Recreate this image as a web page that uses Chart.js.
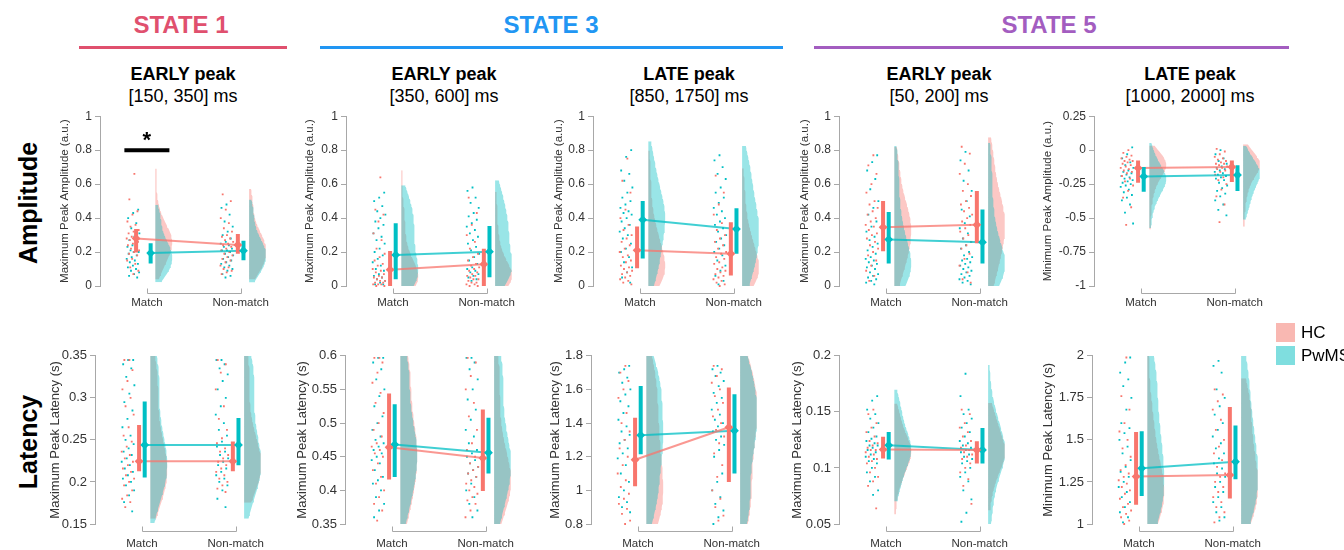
<!DOCTYPE html>
<html>
<head>
<meta charset="utf-8">
<title>Raincloud plots</title>
<script src="https://cdn.jsdelivr.net/npm/chart.js@4.4.1/dist/chart.umd.min.js"></script>
<style>
  body { margin: 0; background: #fff; }
  #fig { position: relative; width: 1344px; height: 550px; overflow: hidden; font-family: "Liberation Sans", Arial, sans-serif; color: #000; }
  .state { position: absolute; top: 11px; font-size: 24px; font-weight: bold; transform: translateX(-50%); white-space: nowrap; }
  .rule { position: absolute; top: 46px; height: 3px; }
  .ttl { position: absolute; top: 63px; font-size: 18px; line-height: 22px; text-align: center; transform: translateX(-50%); white-space: nowrap; }
  .ttl b { display: block; }
  .rowlab { position: absolute; left: 28px; font-size: 25px; font-weight: bold; transform: translate(-50%, -50%) rotate(-90deg); white-space: nowrap; }
  .panel { position: absolute; }
  .legend { position: absolute; left: 1276px; top: 321px; font-size: 17px; z-index: 5; }
  .legend div { height: 23px; display: flex; align-items: center; white-space: nowrap; }
  .legend .sw { width: 19px; height: 19px; margin-right: 6px; display: inline-block; }
</style>
</head>
<body>
<div id="fig"></div>
<script>
const categories = ['Match', 'Non-match'];
const groupNames = ['HC', 'PwMS'];

const stateNames = ['STATE 1', 'STATE 3', 'STATE 5'];
const peakNames = ['EARLY peak', 'EARLY peak', 'LATE peak', 'EARLY peak', 'LATE peak'];
const peakWindows = ['[150, 350] ms', '[350, 600] ms', '[850, 1750] ms', '[50, 200] ms', '[1000, 2000] ms'];
const rowNames = ['Amplitude', 'Latency'];

// y tick labels
const ampTicks = [0, 0.2, 0.4, 0.6, 0.8, 1];
const minAmpTicks = [-1, -0.75, -0.5, -0.25, 0, 0.25];
const latS1eTicks = [0.15, 0.2, 0.25, 0.3, 0.35];
const latS3eTicks = [0.35, 0.4, 0.45, 0.5, 0.55, 0.6];
const latS3lTicks = [0.8, 1, 1.2, 1.4, 1.6, 1.8];
const latS5eTicks = [0.05, 0.1, 0.15, 0.2];
const latS5lTicks = [1, 1.25, 1.5, 1.75, 2];

// single subjects, [Match, Non-match]
const ampS1eHC = [
  [0.66, 0.51, 0.44, 0.42, 0.38, 0.36, 0.35, 0.33, 0.32, 0.31, 0.30, 0.29, 0.28, 0.28, 0.27, 0.26, 0.25, 0.24, 0.23, 0.22, 0.21, 0.20, 0.19, 0.18, 0.16, 0.15, 0.13, 0.11, 0.09, 0.07],
  [0.54, 0.50, 0.45, 0.40, 0.37, 0.34, 0.32, 0.30, 0.29, 0.28, 0.27, 0.26, 0.25, 0.24, 0.23, 0.22, 0.21, 0.20, 0.19, 0.18, 0.17, 0.16, 0.15, 0.14, 0.12, 0.11, 0.10, 0.09, 0.08, 0.07]
];
const ampS1ePW = [
  [0.45, 0.43, 0.40, 0.37, 0.34, 0.31, 0.29, 0.27, 0.26, 0.24, 0.23, 0.22, 0.21, 0.20, 0.20, 0.19, 0.18, 0.17, 0.16, 0.15, 0.14, 0.13, 0.12, 0.11, 0.10, 0.09, 0.08, 0.07, 0.06, 0.05],
  [0.48, 0.46, 0.42, 0.38, 0.35, 0.32, 0.30, 0.28, 0.26, 0.25, 0.24, 0.23, 0.22, 0.21, 0.21, 0.20, 0.19, 0.18, 0.17, 0.16, 0.15, 0.14, 0.13, 0.12, 0.11, 0.10, 0.09, 0.07, 0.06, 0.05]
];
const ampS3eHC = [
  [0.64, 0.45, 0.42, 0.38, 0.31, 0.27, 0.22, 0.19, 0.17, 0.15, 0.13, 0.12, 0.10, 0.09, 0.08, 0.07, 0.06, 0.05, 0.05, 0.04, 0.03, 0.03, 0.02, 0.02, 0.01, 0.01, 0.01, 0.00, 0.00],
  [0.52, 0.43, 0.36, 0.30, 0.26, 0.22, 0.19, 0.17, 0.15, 0.13, 0.12, 0.11, 0.10, 0.09, 0.08, 0.07, 0.06, 0.06, 0.05, 0.04, 0.04, 0.03, 0.02, 0.02, 0.01, 0.01, 0.00, 0.00]
];
const ampS3ePW = [
  [0.55, 0.52, 0.50, 0.47, 0.44, 0.42, 0.40, 0.38, 0.36, 0.34, 0.31, 0.29, 0.27, 0.25, 0.22, 0.20, 0.18, 0.16, 0.14, 0.12, 0.10, 0.09, 0.07, 0.06, 0.05, 0.04, 0.03, 0.02, 0.01, 0.01],
  [0.58, 0.56, 0.52, 0.49, 0.46, 0.43, 0.41, 0.39, 0.37, 0.35, 0.33, 0.31, 0.29, 0.27, 0.25, 0.23, 0.21, 0.19, 0.17, 0.15, 0.13, 0.11, 0.10, 0.09, 0.08, 0.07, 0.06, 0.05, 0.04, 0.03]
];
const ampS3lHC = [
  [0.75, 0.62, 0.55, 0.45, 0.40, 0.36, 0.33, 0.30, 0.28, 0.26, 0.24, 0.22, 0.20, 0.18, 0.17, 0.15, 0.14, 0.12, 0.11, 0.10, 0.09, 0.08, 0.07, 0.06, 0.05, 0.04, 0.03, 0.02, 0.01],
  [0.65, 0.55, 0.48, 0.42, 0.37, 0.33, 0.30, 0.28, 0.26, 0.24, 0.22, 0.20, 0.19, 0.17, 0.16, 0.14, 0.13, 0.11, 0.10, 0.09, 0.08, 0.07, 0.06, 0.05, 0.04, 0.03, 0.02, 0.01, 0.00]
];
const ampS3lPW = [
  [0.80, 0.76, 0.68, 0.66, 0.62, 0.58, 0.55, 0.52, 0.50, 0.48, 0.46, 0.44, 0.43, 0.42, 0.40, 0.38, 0.36, 0.34, 0.32, 0.30, 0.28, 0.25, 0.22, 0.20, 0.17, 0.14, 0.11, 0.08, 0.05, 0.02],
  [0.77, 0.74, 0.70, 0.66, 0.63, 0.58, 0.55, 0.52, 0.49, 0.46, 0.44, 0.42, 0.40, 0.38, 0.36, 0.34, 0.32, 0.30, 0.28, 0.26, 0.24, 0.22, 0.20, 0.18, 0.15, 0.12, 0.09, 0.06, 0.03, 0.01]
];
const ampS5eHC = [
  [0.77, 0.71, 0.66, 0.60, 0.55, 0.50, 0.48, 0.46, 0.44, 0.42, 0.40, 0.38, 0.36, 0.35, 0.33, 0.31, 0.30, 0.28, 0.26, 0.24, 0.22, 0.20, 0.18, 0.15, 0.12, 0.09, 0.06, 0.03],
  [0.82, 0.78, 0.72, 0.66, 0.60, 0.56, 0.53, 0.50, 0.48, 0.46, 0.44, 0.42, 0.40, 0.38, 0.36, 0.34, 0.32, 0.30, 0.28, 0.26, 0.24, 0.22, 0.19, 0.16, 0.12, 0.08, 0.04, 0.02]
];
const ampS5ePW = [
  [0.77, 0.73, 0.68, 0.63, 0.57, 0.50, 0.46, 0.42, 0.38, 0.35, 0.32, 0.29, 0.27, 0.25, 0.23, 0.21, 0.19, 0.17, 0.16, 0.15, 0.14, 0.13, 0.12, 0.11, 0.10, 0.08, 0.07, 0.06, 0.05, 0.04, 0.03, 0.02, 0.01],
  [0.79, 0.74, 0.68, 0.62, 0.56, 0.50, 0.45, 0.41, 0.37, 0.34, 0.31, 0.28, 0.26, 0.24, 0.22, 0.20, 0.18, 0.17, 0.16, 0.15, 0.14, 0.13, 0.12, 0.11, 0.10, 0.09, 0.08, 0.07, 0.06, 0.05, 0.04, 0.03, 0.02, 0.01]
];
const ampS5lHC = [
  [0.00, -0.02, -0.04, -0.05, -0.06, -0.07, -0.08, -0.08, -0.09, -0.10, -0.11, -0.12, -0.13, -0.14, -0.15, -0.16, -0.17, -0.19, -0.21, -0.23, -0.26, -0.30, -0.35, -0.42, -0.55],
  [0.01, -0.01, -0.03, -0.05, -0.06, -0.07, -0.08, -0.09, -0.10, -0.10, -0.11, -0.12, -0.13, -0.14, -0.15, -0.16, -0.18, -0.20, -0.22, -0.25, -0.29, -0.34, -0.40, -0.53]
];
const ampS5lPW = [
  [0.02, -0.03, -0.06, -0.09, -0.11, -0.13, -0.15, -0.16, -0.17, -0.18, -0.19, -0.20, -0.21, -0.22, -0.23, -0.24, -0.25, -0.26, -0.27, -0.29, -0.31, -0.33, -0.35, -0.37, -0.40, -0.46, -0.54],
  [0.00, -0.03, -0.06, -0.08, -0.10, -0.12, -0.13, -0.14, -0.15, -0.16, -0.17, -0.18, -0.19, -0.20, -0.21, -0.22, -0.24, -0.26, -0.28, -0.30, -0.32, -0.34, -0.37, -0.40, -0.44, -0.48]
];
const latS1eHC = [
  [0.345, 0.345, 0.333, 0.32, 0.31, 0.30, 0.29, 0.28, 0.265, 0.255, 0.248, 0.242, 0.236, 0.232, 0.228, 0.224, 0.22, 0.216, 0.212, 0.208, 0.204, 0.20, 0.196, 0.19, 0.184, 0.18, 0.176, 0.17],
  [0.345, 0.34, 0.33, 0.31, 0.29, 0.275, 0.262, 0.252, 0.246, 0.24, 0.236, 0.232, 0.228, 0.224, 0.22, 0.216, 0.212, 0.208, 0.204, 0.20, 0.196, 0.192, 0.188]
];
const latS1ePW = [
  [0.345, 0.345, 0.34, 0.335, 0.325, 0.315, 0.305, 0.295, 0.285, 0.275, 0.265, 0.255, 0.25, 0.245, 0.24, 0.236, 0.232, 0.228, 0.224, 0.22, 0.216, 0.212, 0.208, 0.204, 0.20, 0.196, 0.19, 0.184, 0.176, 0.165],
  [0.345, 0.345, 0.34, 0.335, 0.328, 0.32, 0.31, 0.30, 0.29, 0.28, 0.27, 0.262, 0.255, 0.248, 0.242, 0.236, 0.232, 0.228, 0.224, 0.22, 0.216, 0.212, 0.208, 0.204, 0.20, 0.196, 0.19, 0.18, 0.17]
];
const latS3eHC = [
  [0.597, 0.597, 0.59, 0.575, 0.56, 0.545, 0.53, 0.515, 0.50, 0.49, 0.48, 0.47, 0.465, 0.46, 0.455, 0.45, 0.44, 0.43, 0.42, 0.41, 0.40, 0.39, 0.38, 0.37, 0.355],
  [0.597, 0.59, 0.57, 0.55, 0.53, 0.51, 0.49, 0.47, 0.46, 0.45, 0.44, 0.435, 0.43, 0.425, 0.42, 0.415, 0.41, 0.405, 0.40, 0.395, 0.39, 0.385, 0.38, 0.37, 0.36]
];
const latS3ePW = [
  [0.597, 0.597, 0.59, 0.58, 0.565, 0.55, 0.54, 0.525, 0.51, 0.50, 0.49, 0.48, 0.475, 0.47, 0.465, 0.46, 0.455, 0.45, 0.445, 0.44, 0.43, 0.42, 0.415, 0.41, 0.40, 0.39, 0.38, 0.37, 0.36],
  [0.597, 0.597, 0.59, 0.58, 0.565, 0.55, 0.535, 0.52, 0.505, 0.49, 0.48, 0.47, 0.46, 0.455, 0.45, 0.445, 0.44, 0.435, 0.43, 0.425, 0.42, 0.41, 0.40, 0.39, 0.38, 0.37, 0.36]
];
const latS3lHC = [
  [1.74, 1.70, 1.65, 1.60, 1.55, 1.46, 1.40, 1.35, 1.30, 1.25, 1.20, 1.15, 1.10, 1.06, 1.02, 0.98, 0.95, 0.92, 0.89, 0.86, 0.82, 0.80],
  [1.74, 1.72, 1.68, 1.64, 1.60, 1.56, 1.52, 1.48, 1.44, 1.40, 1.36, 1.32, 1.28, 1.22, 1.15, 1.08, 1.00, 0.95, 0.90, 0.85, 0.82]
];
const latS3lPW = [
  [1.74, 1.72, 1.70, 1.67, 1.64, 1.60, 1.57, 1.53, 1.50, 1.46, 1.42, 1.38, 1.35, 1.33, 1.30, 1.28, 1.25, 1.22, 1.19, 1.15, 1.10, 1.05, 1.00, 0.96, 0.93, 0.90, 0.87],
  [1.74, 1.72, 1.70, 1.68, 1.65, 1.62, 1.58, 1.55, 1.52, 1.48, 1.45, 1.42, 1.40, 1.38, 1.35, 1.32, 1.30, 1.27, 1.24, 1.20, 1.10, 1.05, 1.00, 0.96, 0.92, 0.88, 0.84, 0.80]
];
const latS5eHC = [
  [0.152, 0.148, 0.14, 0.136, 0.132, 0.128, 0.124, 0.122, 0.12, 0.118, 0.116, 0.116, 0.114, 0.112, 0.11, 0.108, 0.106, 0.104, 0.10, 0.096, 0.092, 0.088, 0.084, 0.064],
  [0.152, 0.148, 0.14, 0.136, 0.132, 0.128, 0.124, 0.12, 0.118, 0.116, 0.114, 0.112, 0.11, 0.108, 0.104, 0.10, 0.096, 0.09, 0.084, 0.068]
];
const latS5ePW = [
  [0.164, 0.16, 0.152, 0.148, 0.144, 0.14, 0.136, 0.132, 0.128, 0.126, 0.124, 0.122, 0.12, 0.12, 0.118, 0.116, 0.114, 0.112, 0.11, 0.108, 0.106, 0.104, 0.10, 0.096, 0.092, 0.088, 0.08, 0.076],
  [0.184, 0.164, 0.152, 0.148, 0.144, 0.14, 0.136, 0.132, 0.128, 0.124, 0.122, 0.12, 0.118, 0.116, 0.114, 0.112, 0.11, 0.108, 0.106, 0.104, 0.10, 0.096, 0.092, 0.088, 0.08, 0.072, 0.06, 0.052]
];
const latS5lHC = [
  [1.99, 1.76, 1.68, 1.60, 1.55, 1.50, 1.45, 1.40, 1.35, 1.32, 1.30, 1.28, 1.26, 1.24, 1.22, 1.20, 1.18, 1.15, 1.12, 1.10, 1.08, 1.06, 1.04, 1.02, 1.00],
  [1.80, 1.77, 1.73, 1.68, 1.62, 1.56, 1.50, 1.46, 1.42, 1.38, 1.34, 1.30, 1.28, 1.25, 1.22, 1.19, 1.16, 1.13, 1.10, 1.07, 1.04, 1.01]
];
const latS5lPW = [
  [1.99, 1.96, 1.90, 1.86, 1.82, 1.75, 1.68, 1.60, 1.57, 1.54, 1.50, 1.46, 1.42, 1.38, 1.34, 1.31, 1.28, 1.25, 1.22, 1.19, 1.16, 1.13, 1.10, 1.07, 1.04, 1.01],
  [1.97, 1.94, 1.90, 1.80, 1.75, 1.70, 1.65, 1.60, 1.56, 1.52, 1.48, 1.45, 1.42, 1.39, 1.36, 1.33, 1.30, 1.28, 1.25, 1.22, 1.19, 1.16, 1.13, 1.10, 1.07, 1.04, 1.02]
];

// group means and error bar ends, one [Match, Non-match] pair per panel
const meanHC = [[0.28, 0.242], [0.096, 0.128], [0.21, 0.19], [0.346, 0.36], [-0.132, -0.124],
                [0.2245, 0.2245], [0.464, 0.448], [1.182, 1.375], [0.1164, 0.116], [1.282, 1.291]];
const loHC = [[0.198, 0.19], [0, 0], [0.105, 0.062], [0.205, 0.252], [-0.239, -0.234],
              [0.2126, 0.2126], [0.416, 0.399], [1.025, 1.05], [0.1085, 0.104], [1.114, 1.152]];
const hiHC = [[0.335, 0.306], [0.206, 0.22], [0.35, 0.375], [0.5, 0.56], [-0.076, -0.076],
              [0.2676, 0.248], [0.544, 0.52], [1.432, 1.612], [0.1277, 0.1238], [1.547, 1.695]];
const meanPW = [[0.194, 0.208], [0.183, 0.202], [0.39, 0.335], [0.274, 0.258], [-0.193, -0.183],
                [0.244, 0.244], [0.468, 0.456], [1.328, 1.355], [0.1203, 0.116], [1.331, 1.37]];
const loPW = [[0.133, 0.152], [0.04, 0.052], [0.162, 0.19], [0.133, 0.133], [-0.307, -0.3],
              [0.2054, 0.22], [0.42, 0.425], [1.215, 1.1], [0.1076, 0.104], [1.167, 1.266]];
const hiPW = [[0.252, 0.267], [0.37, 0.354], [0.5, 0.458], [0.436, 0.45], [-0.124, -0.112],
              [0.2957, 0.276], [0.528, 0.508], [1.62, 1.572], [0.132, 0.1356], [1.551, 1.585]];

// significance bar (State 1, early amplitude, Match)
const sigLevel = 0.8;
const sigLabel = '*';

const panelHC = [ampS1eHC, ampS3eHC, ampS3lHC, ampS5eHC, ampS5lHC, latS1eHC, latS3eHC, latS3lHC, latS5eHC, latS5lHC];
const panelPW = [ampS1ePW, ampS3ePW, ampS3lPW, ampS5ePW, ampS5lPW, latS1ePW, latS3ePW, latS3lPW, latS5ePW, latS5lPW];
const panelTicks = [ampTicks, ampTicks, ampTicks, ampTicks, minAmpTicks, latS1eTicks, latS3eTicks, latS3lTicks, latS5eTicks, latS5lTicks];
const yTitles = ['Maximum Peak Amplitude (a.u.)', 'Maximum Peak Amplitude (a.u.)', 'Maximum Peak Amplitude (a.u.)',
  'Maximum Peak Amplitude (a.u.)', 'Minimum Peak Amplitude (a.u.)', 'Maximum Peak Latency (s)', 'Maximum Peak Latency (s)',
  'Maximum Peak Latency (s)', 'Maximum Peak Latency (s)', 'Minimum Peak Latency (s)'];

// ---- layout ----
const axisX = [100, 346, 593, 839, 1094, 95, 345, 591, 839, 1092];
const yAxisW = [46, 47, 45, 45, 57, 51, 54, 47, 53, 55];
const rowTop = [116, 355];
const rowH = [170, 169];
const xLabelPad = [10, 13];
const PLOT_W = 190, PAD_TOP = 10, XAX_H = 34;
const X_MIN = 0.5, X_MAX = 0.5 + PLOT_W / 96;
const DOT_LO = -0.22, DOT_HI = -0.08, VIO_BASE = 0.09, VIO_W = 0.18;
const dodge = axisX.map((_, i) => i === 0 ? [[-0.115, -0.03], [0.04, 0.03]] : [[-0.03, -0.03], [0.03, 0.03]]);

const COL = ['#F8766D', '#00BFC4'];
const FILL = ['rgba(248,118,109,0.4)', 'rgba(0,191,196,0.4)'];
const LINEC = ['rgba(248,118,109,0.75)', 'rgba(0,191,196,0.75)'];
const AXIS_C = '#a8a8a8';
const FONT = '"Liberation Sans", Arial, sans-serif';

const fig = document.getElementById('fig');
function addDiv(cls, html, css) {
  const d = document.createElement('div');
  d.className = cls;
  d.innerHTML = html;
  Object.assign(d.style, css || {});
  fig.appendChild(d);
  return d;
}

// headers
const stateX = [181, 551, 1049];
const stateColors = ['#E0506E', '#2196F3', '#A35DC0'];
const ruleSpan = [[79, 287], [320, 783], [814, 1289]];
stateNames.forEach((s, k) => {
  addDiv('state', s, {left: stateX[k] + 'px', color: stateColors[k]});
  addDiv('rule', '', {left: ruleSpan[k][0] + 'px', width: (ruleSpan[k][1] - ruleSpan[k][0]) + 'px', background: stateColors[k]});
});
const titleX = [183, 444, 689, 939, 1190];
peakNames.forEach((p, k) => addDiv('ttl', '<b>' + p + '</b>' + peakWindows[k], {left: titleX[k] + 'px'}));
addDiv('rowlab', rowNames[0], {top: '203px'});
addDiv('rowlab', rowNames[1], {top: '442px'});
const leg = addDiv('legend', '');
groupNames.forEach((g, k) => {
  const r = document.createElement('div');
  r.innerHTML = '<span class="sw" style="background:' + ['#F9B8B2', '#7FDEDF'][k] + '"></span>' + g;
  leg.appendChild(r);
});

function jitter(k, seed) {
  const f = ((k + 1) * 0.6180339887 + seed * 0.2917) % 1;
  return DOT_LO + (DOT_HI - DOT_LO) * f;
}

function violin(vals, base, yMin, yMax) {
  const n = vals.length;
  const mean = vals.reduce((a, b) => a + b, 0) / n;
  const sd = Math.sqrt(vals.reduce((a, b) => a + (b - mean) * (b - mean), 0) / (n - 1));
  const h = 1.0 * sd * Math.pow(n, -0.2);
  const lo = Math.max(yMin, Math.min(...vals) - 0.5 * h);
  const hi = Math.min(yMax, Math.max(...vals) + 0.5 * h);
  const steps = 60, dens = [];
  for (let k = 0; k <= steps; k++) {
    const y = lo + (hi - lo) * k / steps;
    let s = 0;
    vals.forEach(v => { const u = (y - v) / h; s += Math.exp(-0.5 * u * u); });
    dens.push({y, d: s});
  }
  const dmax = Math.max(...dens.map(p => p.d));
  return dens.map(p => ({x: base + VIO_W * p.d / dmax, y: p.y}));
}

function datasetsFor(i) {
  const ticks = panelTicks[i];
  const yMin = ticks[0], yMax = ticks[ticks.length - 1];
  const groups = [panelHC[i], panelPW[i]];
  const means = [meanHC[i], meanPW[i]], los = [loHC[i], loPW[i]], his = [hiHC[i], hiPW[i]];
  const ds = [];
  groups.forEach((grp, g) => {
    grp.forEach((vals, c) => {
      const base = c + 1 + VIO_BASE;
      ds.push({type: 'line', indexAxis: 'y', data: violin(vals, base, yMin, yMax), fill: {value: base},
        backgroundColor: FILL[g], borderWidth: 0, pointRadius: 0, showLine: true, order: 6 - g, clip: 0});
    });
  });
  groups.forEach((grp, g) => {
    const pts = [];
    grp.forEach((vals, c) => vals.forEach((v, k) => pts.push({x: c + 1 + jitter(k, g + 2 * c), y: v})));
    ds.push({type: 'scatter', data: pts, backgroundColor: COL[g], pointRadius: 1.3, pointStyle: 'rect',
      pointBorderWidth: 0, showLine: false, order: 4, clip: 3});
  });
  groups.forEach((grp, g) => {
    const off = dodge[i][g];
    const mpts = [0, 1].map(c => ({x: c + 1 + off[c], y: means[g][c]}));
    ds.push({type: 'line', data: mpts, borderColor: LINEC[g], borderWidth: 2, pointRadius: 0, fill: false, showLine: true, order: 3});
    [0, 1].forEach(c => ds.push({type: 'line', data: [{x: c + 1 + off[c], y: los[g][c]}, {x: c + 1 + off[c], y: his[g][c]}],
      borderColor: COL[g], borderWidth: 4, borderCapStyle: 'butt', pointRadius: 0, fill: false, showLine: true, order: 1}));
    ds.push({type: 'scatter', data: mpts, backgroundColor: COL[g], pointStyle: 'rectRot', pointRadius: 4.4,
      pointBorderWidth: 0, showLine: false, order: 0});
  });
  if (i === 0) {
    ds.push({type: 'line', data: [{x: 1 - 0.24, y: sigLevel}, {x: 1 + 0.24, y: sigLevel}], borderColor: '#000',
      borderWidth: 4, borderCapStyle: 'butt', pointRadius: 0, fill: false, showLine: true, order: 2});
  }
  return ds;
}

const bracketPlugin = {
  id: 'bracket',
  afterDraw(chart) {
    const {ctx, chartArea, scales: {x, y}} = chart;
    const x1 = Math.round(x.getPixelForValue(1)) + 0.5, x2 = Math.round(x.getPixelForValue(2)) + 0.5;
    const yb = Math.round(chartArea.bottom) + 7.5;
    ctx.save();
    ctx.strokeStyle = AXIS_C;
    ctx.lineWidth = 1;
    ctx.beginPath();
    ctx.moveTo(x1, yb - 5); ctx.lineTo(x1, yb); ctx.lineTo(x2, yb); ctx.lineTo(x2, yb - 5);
    ctx.stroke();
    if (chart.options.plugins.bracket && chart.options.plugins.bracket.sig) {
      ctx.fillStyle = '#000';
      ctx.font = 'bold 22px ' + FONT;
      ctx.textAlign = 'center';
      ctx.textBaseline = 'middle';
      ctx.fillText(sigLabel, x.getPixelForValue(1), y.getPixelForValue(sigLevel) - 9);
    }
    ctx.restore();
  }
};

function makeChart(i) {
  const row = i < 5 ? 0 : 1;
  const W = yAxisW[i] + PLOT_W, H = PAD_TOP + rowH[row] + XAX_H;
  const cv = document.createElement('canvas');
  cv.className = 'panel';
  cv.width = W; cv.height = H;
  Object.assign(cv.style, {left: (axisX[i] - yAxisW[i]) + 'px', top: (rowTop[row] - PAD_TOP) + 'px', width: W + 'px', height: H + 'px'});
  fig.appendChild(cv);
  const ticks = panelTicks[i];
  const tickSize = row === 0 ? 12 : 13;
  const titleSize = row === 0 ? 11.5 : 13;
  new Chart(cv, {
    type: 'scatter',
    data: {datasets: datasetsFor(i)},
    options: {
      responsive: false,
      devicePixelRatio: 1,
      animation: false,
      events: [],
      layout: {padding: {top: PAD_TOP, right: 0, bottom: 0, left: 0}},
      plugins: {legend: {display: false}, tooltip: {enabled: false}, bracket: {sig: i === 0}},
      scales: {
        x: {
          type: 'linear', min: X_MIN, max: X_MAX,
          grid: {display: false, drawTicks: false}, border: {display: false},
          afterBuildTicks: s => { s.ticks = [{value: 1}, {value: 2}]; },
          afterFit: s => { s.height = XAX_H; },
          ticks: {callback: v => categories[Math.round(v) - 1], autoSkip: false, maxRotation: 0, padding: xLabelPad[row],
            color: '#333', font: {family: FONT, size: 11.5}}
        },
        y: {
          type: 'linear', min: ticks[0], max: ticks[ticks.length - 1],
          grid: {display: true, drawOnChartArea: false, drawTicks: true, tickLength: 5, color: AXIS_C},
          border: {display: true, color: AXIS_C},
          afterBuildTicks: s => { s.ticks = ticks.map(v => ({value: v})); },
          afterFit: s => { s.width = yAxisW[i]; },
          ticks: {callback: v => String(Number(v.toFixed(3))), padding: 3, color: '#333', font: {family: FONT, size: tickSize}},
          title: {display: true, text: yTitles[i], color: '#333', font: {family: FONT, size: titleSize}, padding: {top: 4, bottom: 2}}
        }
      }
    },
    plugins: [bracketPlugin]
  });
}

for (let i = 0; i < 10; i++) makeChart(i);
</script>
</body>
</html>
